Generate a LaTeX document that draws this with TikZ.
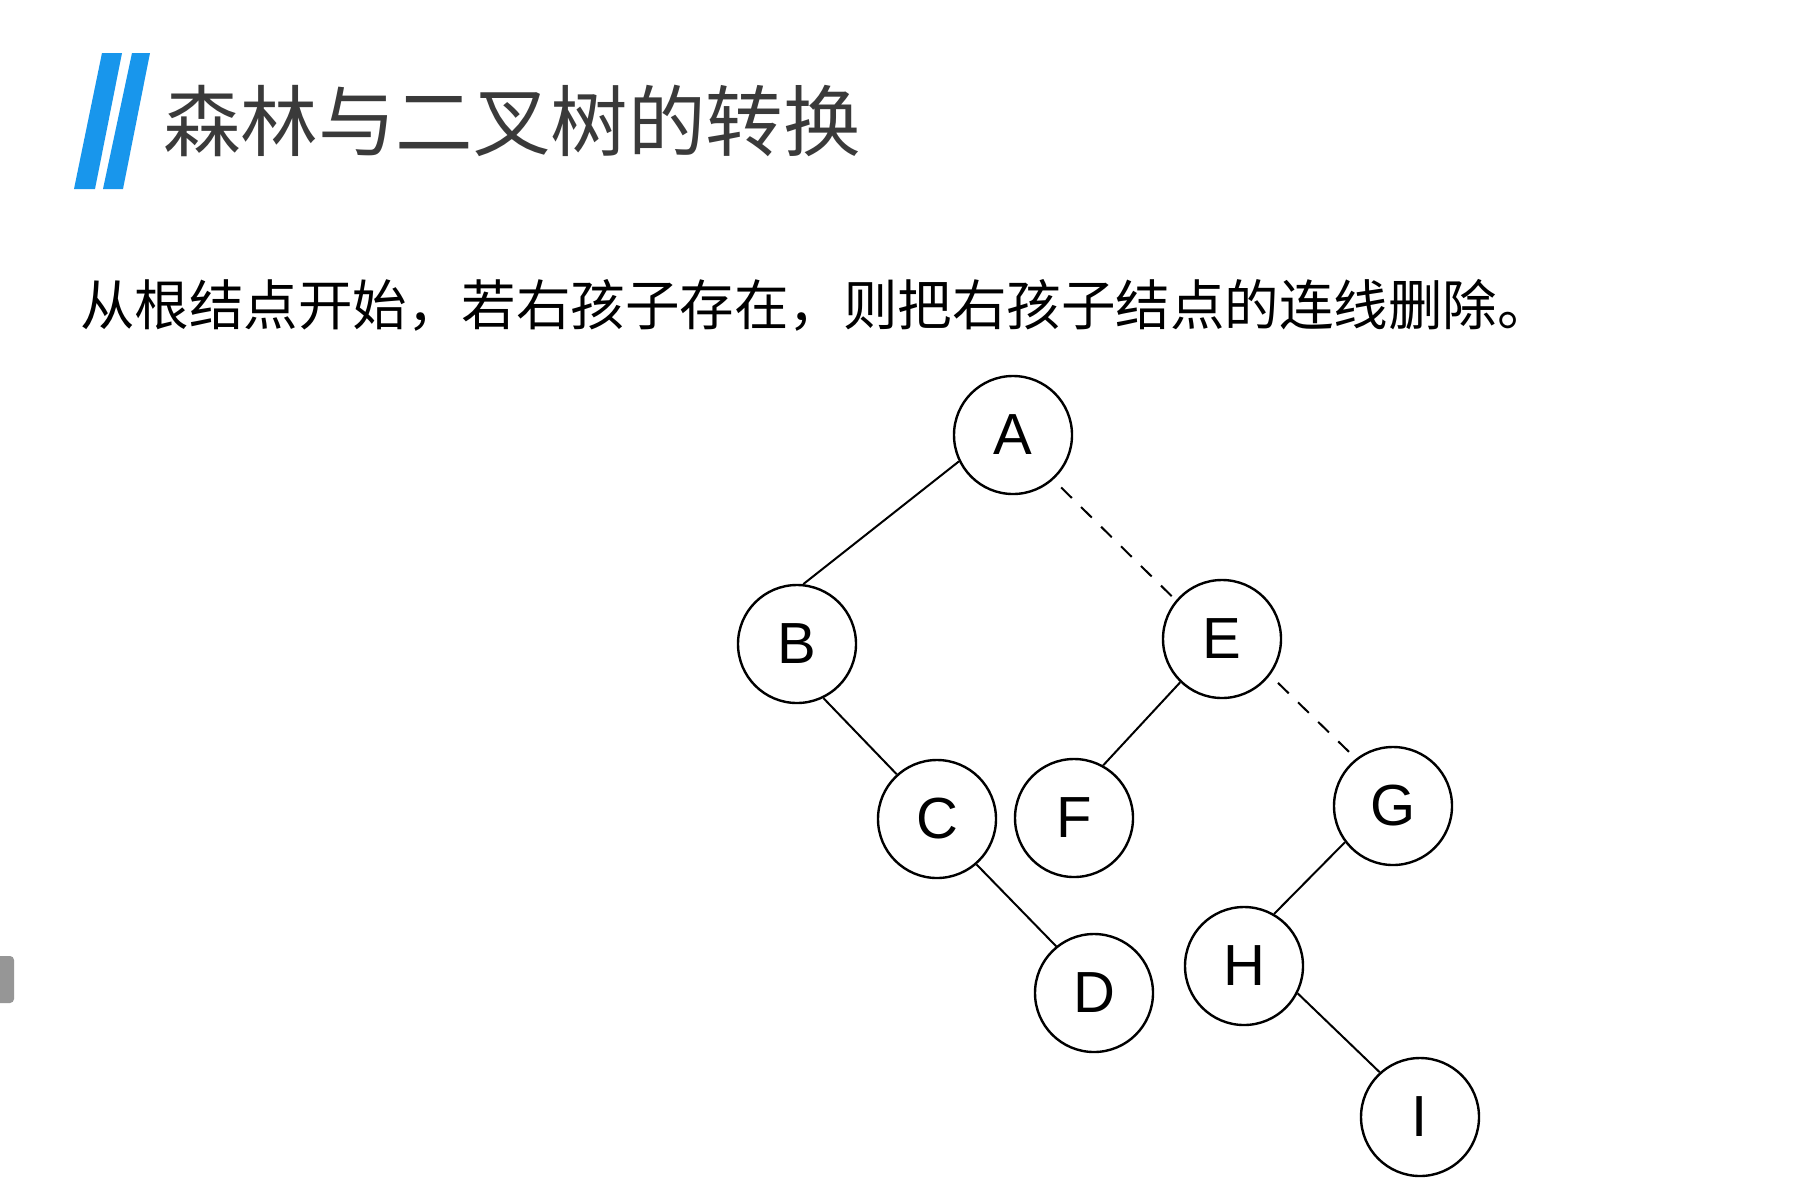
\documentclass[tikz,border=0pt]{standalone}
\usepackage{fontspec}
\setmainfont{Liberation Sans}
\newfontfamily\cjk{Noto Sans CJK SC}
\definecolor{barblue}{RGB}{24,150,236}
\definecolor{titlegray}{RGB}{58,58,58}
\definecolor{tabgray}{RGB}{150,150,150}
\begin{document}
\begin{tikzpicture}[x=1pt,y=-1pt,
  tnode/.style={circle,draw=black,line width=2.4pt,minimum size=118pt,inner sep=0pt,
    font=\fontsize{58}{60}\selectfont},
  solidedge/.style={line width=2pt,black},
  dashedge/.style={line width=2pt,black,dash pattern=on 15pt off 13pt,dash phase=17pt}]
\useasboundingbox (0,0) rectangle (1804,1203);
\fill[white] (0,0) rectangle (1804,1203);
% blue bars
\fill[barblue] (102,53) -- (122,53) -- (95,189) -- (74,189) -- cycle;
\fill[barblue] (132,53) -- (150,53) -- (123,189) -- (103,189) -- cycle;
% gray tab
\fill[tabgray, rounded corners=4pt] (-10,956) rectangle (14,1003);
% title
\node[anchor=west,inner sep=0pt,text=titlegray,font=\cjk\fontsize{77.5}{80}\selectfont] (title) at (163,121) {森林与二叉树的转换};
\node[anchor=west,inner sep=0pt,text=black,font=\cjk\fontsize{54.5}{60}\selectfont] (sub) at (80,305) {从根结点开始，若右孩子存在，则把右孩子结点的连线删除。};
% nodes
\node[tnode] (A) at (1013,435) {A};
\node[tnode] (B) at (797,644) {B};
\node[tnode] (E) at (1222,639) {E};
\node[tnode] (C) at (937,819) {C};
\node[tnode] (F) at (1074,818) {F};
\node[tnode] (G) at (1393,806) {G};
\node[tnode] (D) at (1094,993) {D};
\node[tnode] (H) at (1244,966) {H};
\node[tnode] (I) at (1420,1117) {I};
% edges
\draw[solidedge] (A.206) -- (B.84);
\draw[dashedge] (A.312) -- (E.140);
\draw[solidedge] (E.226) -- (F.61);
\draw[dashedge] (E.323) -- (G.128);
\draw[solidedge] (B.296) -- (C.132);
\draw[solidedge] (C.311) -- (D.129);
\draw[solidedge] (G.217) -- (H.60);
\draw[solidedge] (H.333) -- (I.132);
\end{tikzpicture}
\end{document}
